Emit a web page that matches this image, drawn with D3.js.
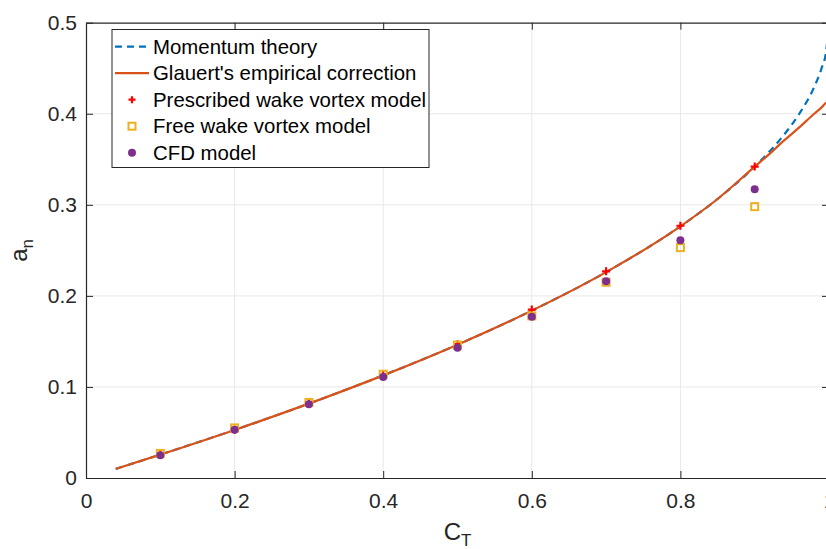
<!DOCTYPE html>
<html>
<head>
<meta charset="utf-8">
<script src="https://cdn.jsdelivr.net/npm/d3@7"></script>
<style>
  body { margin: 0; background: #fff; }
  svg { display: block; font-family: "Liberation Sans", Arial, sans-serif; }
</style>
</head>
<body>
<div id="wrapper"></div>
<script>
// curves
const curveCT = [0.04, 0.1, 0.2, 0.3, 0.4, 0.5, 0.6, 0.7, 0.8, 0.85, 0.9, 0.92, 0.94, 0.96, 0.98, 0.99, 0.996, 1.0]
const momentumA = [0.010, 0.0257, 0.0528, 0.0817, 0.1127, 0.1464, 0.1838, 0.2261, 0.2764, 0.3064, 0.3419, 0.3586, 0.3775, 0.400, 0.4293, 0.450, 0.468, 0.50]
const glauertA = [0.010, 0.0257, 0.0528, 0.0817, 0.1127, 0.1464, 0.1838, 0.2261, 0.2764, 0.3064, 0.3419, 0.356, 0.371, 0.385, 0.400, 0.407, 0.412, 0.414]

// model points
const pointCT = [0.1, 0.2, 0.3, 0.4, 0.5, 0.6, 0.7, 0.8, 0.9]
const prescribedA = [0.026, 0.053, 0.082, 0.113, 0.147, 0.185, 0.227, 0.277, 0.342]
const freeA = [0.027, 0.055, 0.083, 0.114, 0.146, 0.178, 0.215, 0.253, 0.298]
const cfdA = [0.025, 0.053, 0.081, 0.111, 0.143, 0.177, 0.216, 0.261, 0.317]

const xTicks = [0, 0.2, 0.4, 0.6, 0.8, 1]
const yTicks = [0, 0.1, 0.2, 0.3, 0.4, 0.5]
const legendLabels = ["Momentum theory", "Glauert's empirical correction", "Prescribed wake vortex model", "Free wake vortex model", "CFD model"]

const colBlue = "#0072BD", colOrange = "#D95319", colRed = "#FF0000", colYellow = "#EDB120", colPurple = "#7E2F8E"
const axisCol = "#262626", gridCol = "#e8e8e8"

let dims = {width: 826, height: 549, margin: {top: 22.7, left: 86, right: -3, bottom: 71}}
let boundW = dims.width - dims.margin.left - dims.margin.right
let boundH = dims.height - dims.margin.top - dims.margin.bottom

var svg = d3.select("#wrapper").append("svg")
  .attr("width", dims.width)
  .attr("height", dims.height)

var xScale = d3.scaleLinear().domain([0, 1]).range([0, boundW])
var yScale = d3.scaleLinear().domain([0, 0.5]).range([boundH, 0])

var bounds = svg.append("g")
  .attr("transform", `translate(${dims.margin.left},${dims.margin.top})`)

svg.append("defs").append("clipPath").attr("id", "clip")
  .append("rect").attr("x", 0).attr("y", 0).attr("width", boundW).attr("height", boundH)

// grid
bounds.append("g").selectAll("line.gx").data(xTicks.slice(1, -1)).enter().append("line")
  .attr("x1", d => xScale(d)).attr("x2", d => xScale(d))
  .attr("y1", 0).attr("y2", boundH)
  .attr("stroke", gridCol).attr("stroke-width", 1)
bounds.append("g").selectAll("line.gy").data(yTicks.slice(1, -1)).enter().append("line")
  .attr("y1", d => yScale(d)).attr("y2", d => yScale(d))
  .attr("x1", 0).attr("x2", boundW)
  .attr("stroke", gridCol).attr("stroke-width", 1)

// axes
var xAxis = bounds.append("g")
  .attr("transform", `translate(0,${boundH})`)
  .call(d3.axisBottom(xScale).tickValues(xTicks).tickSizeInner(-7).tickSizeOuter(0).tickPadding(15).tickFormat(d3.format("")))
var xAxisTop = bounds.append("g")
  .call(d3.axisTop(xScale).tickValues(xTicks).tickSizeInner(-7).tickSizeOuter(0).tickFormat(""))
var yAxis = bounds.append("g")
  .call(d3.axisLeft(yScale).tickValues(yTicks).tickSizeInner(-7).tickSizeOuter(0).tickPadding(9).tickFormat(d3.format("")))
var yAxisRight = bounds.append("g")
  .attr("transform", `translate(${boundW},0)`)
  .call(d3.axisRight(yScale).tickValues(yTicks).tickSizeInner(-7).tickSizeOuter(0).tickFormat(""))
;[xAxis, xAxisTop, yAxis, yAxisRight].forEach(a => {
  a.select(".domain").attr("stroke", axisCol).attr("stroke-width", 1.2)
  a.selectAll(".tick line").attr("stroke", axisCol).attr("stroke-width", 1)
  a.selectAll("text").attr("fill", axisCol).style("font-size", "21px")
    .style("font-family", "'Liberation Sans', Arial, sans-serif")
})

// curves
var plot = bounds.append("g").attr("clip-path", "url(#clip)")
var lineGen = arr => d3.line()
  .x((d, i) => xScale(curveCT[i]))
  .y(d => yScale(d))
  .curve(d3.curveMonotoneX)(arr)

plot.append("path")
  .attr("d", lineGen(momentumA))
  .attr("fill", "none").attr("stroke", colBlue).attr("stroke-width", 2.2)
  .attr("stroke-dasharray", "7,5")
plot.append("path")
  .attr("d", lineGen(glauertA))
  .attr("fill", "none").attr("stroke", colOrange).attr("stroke-width", 2.2)

// markers
var plusPath = s => `M${-s},0H${s}M0,${-s}V${s}`
plot.append("g").selectAll("path").data(prescribedA).enter().append("path")
  .attr("transform", (d, i) => `translate(${xScale(pointCT[i])},${yScale(d)})`)
  .attr("d", plusPath(4)).attr("stroke", colRed).attr("stroke-width", 2.2).attr("fill", "none")
plot.append("g").selectAll("rect").data(freeA).enter().append("rect")
  .attr("x", (d, i) => xScale(pointCT[i]) - 3.5)
  .attr("y", d => yScale(d) - 3.5)
  .attr("width", 7).attr("height", 7)
  .attr("fill", "none").attr("stroke", colYellow).attr("stroke-width", 2)
plot.append("g").selectAll("circle").data(cfdA).enter().append("circle")
  .attr("cx", (d, i) => xScale(pointCT[i]))
  .attr("cy", d => yScale(d))
  .attr("r", 4).attr("fill", colPurple)

// axis labels
var xLab = svg.append("text")
  .attr("x", dims.margin.left + boundW / 2).attr("y", 540)
  .attr("text-anchor", "middle").attr("fill", axisCol).style("font-size", "24px")
xLab.append("tspan").text("C")
xLab.append("tspan").text("T").attr("dy", 6).style("font-size", "17px")

var yLab = svg.append("text")
  .attr("transform", `translate(27,${dims.margin.top + boundH / 2}) rotate(-90)`)
  .attr("text-anchor", "middle").attr("fill", axisCol).style("font-size", "24px")
yLab.append("tspan").text("a")
yLab.append("tspan").text("n").attr("dy", 6).style("font-size", "17px")

// legend
var leg = svg.append("g")
leg.append("rect")
  .attr("x", 112).attr("y", 29.5).attr("width", 317).attr("height", 138)
  .attr("fill", "#fff").attr("stroke", axisCol).attr("stroke-width", 1)
var rowY = i => 46.7 + i * 26.5
leg.selectAll("text").data(legendLabels).enter().append("text")
  .attr("x", 153).attr("y", (d, i) => rowY(i)).attr("dy", "0.35em")
  .attr("fill", "#000").style("font-size", "20.4px").text(d => d)
leg.append("line").attr("x1", 115).attr("x2", 149).attr("y1", rowY(0)).attr("y2", rowY(0))
  .attr("stroke", colBlue).attr("stroke-width", 2.2).attr("stroke-dasharray", "7,5")
leg.append("line").attr("x1", 115).attr("x2", 149).attr("y1", rowY(1)).attr("y2", rowY(1))
  .attr("stroke", colOrange).attr("stroke-width", 2.2)
leg.append("path").attr("transform", `translate(132,${rowY(2)})`).attr("d", plusPath(3.5))
  .attr("stroke", colRed).attr("stroke-width", 2.2)
leg.append("rect").attr("x", 128.5).attr("y", rowY(3) - 3.5).attr("width", 7).attr("height", 7)
  .attr("fill", "none").attr("stroke", colYellow).attr("stroke-width", 2)
leg.append("circle").attr("cx", 132).attr("cy", rowY(4)).attr("r", 4).attr("fill", colPurple)
</script>
</body>
</html>
